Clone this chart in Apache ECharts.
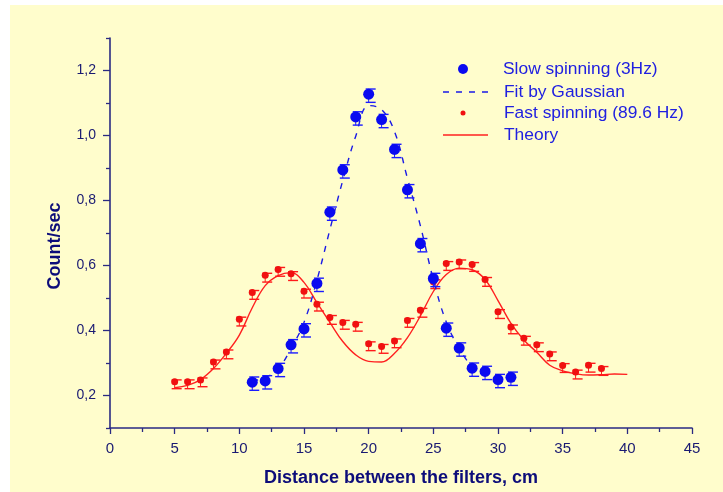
<!DOCTYPE html>
<html>
<head>
<meta charset="utf-8">
<script src="https://cdn.jsdelivr.net/npm/echarts@6/dist/echarts.min.js"></script>
<style>
  html, body { margin: 0; padding: 0; background: #ffffff; }
  #main { position: absolute; left: 10px; top: 5px; width: 713px; height: 487px; }
</style>
</head>
<body>
<div id="main"></div>
<script>
// slow spinning (3Hz) - blue points
const slowX = [11, 12, 13, 14, 15, 16, 17, 18, 19, 20, 21, 22, 23, 24, 25, 26, 27, 28, 29, 30, 31];
const slowY = [0.241, 0.245, 0.283, 0.356, 0.405, 0.545, 0.764, 0.894, 1.057, 1.127, 1.049, 0.957, 0.833, 0.667, 0.560, 0.407, 0.346, 0.284, 0.274, 0.249, 0.256];
const slowErr = [0.016, 0.025]; // up, down

// fit by gaussian - blue dashed
const fitX = [11, 12, 13, 14, 15, 16, 17, 18, 19, 20, 21, 22, 23, 24, 25, 26, 27, 28, 29, 30, 31];
const fitY = [0.245, 0.255, 0.282, 0.345, 0.425, 0.555, 0.71, 0.862, 0.998, 1.092, 1.08, 1.012, 0.868, 0.722, 0.557, 0.426, 0.345, 0.29, 0.265, 0.252, 0.247];

// fast spinning (89.6 Hz) - red points
const fastX = [5, 6, 7, 8, 9, 10, 11, 12, 13, 14, 15, 16, 17, 18, 19, 20, 21, 22, 23, 24, 25, 26, 27, 28, 29, 30, 31, 32, 33, 34, 35, 36, 37, 38];
const fastY = [0.242, 0.242, 0.248, 0.303, 0.334, 0.435, 0.517, 0.570, 0.588, 0.575, 0.521, 0.481, 0.440, 0.425, 0.419, 0.359, 0.351, 0.368, 0.431, 0.462, 0.550, 0.606, 0.611, 0.603, 0.557, 0.458, 0.411, 0.376, 0.356, 0.328, 0.292, 0.272, 0.293, 0.283];
const fastErr = [0.006, 0.021];

// theory - red line
const theoryX = [5, 6, 7, 8, 9, 10, 11, 12, 13, 14, 15, 16, 17, 18, 19, 20, 21, 22, 23, 24, 25, 26, 27, 28, 29, 30, 31, 32, 33, 34, 35, 36, 37, 38, 39, 40];
const theoryY = [0.224, 0.231, 0.249, 0.283, 0.330, 0.386, 0.470, 0.538, 0.569, 0.578, 0.548, 0.486, 0.425, 0.366, 0.325, 0.305, 0.303, 0.330, 0.378, 0.445, 0.520, 0.572, 0.592, 0.587, 0.557, 0.492, 0.422, 0.371, 0.333, 0.293, 0.276, 0.267, 0.263, 0.264, 0.266, 0.265];

// axis ticks
const yMajor = [0.2, 0.4, 0.6, 0.8, 1.0, 1.2];
const yMinor = [0.1, 0.3, 0.5, 0.7, 0.9, 1.1, 1.3];

const axisColor = "#2a2a82";
const labelColor = "#1a1a72";
const font = "Arial, 'Liberation Sans', sans-serif";

const zip = (xs, ys) => xs.map((x, i) => [x, ys[i]]);
const errRows = (xs, ys, e) => xs.map((x, i) => [x, ys[i] - e[1], ys[i] + e[0]]);

// error bars with caps
function errorBar(color) {
    return function (params, api) {
        const x = api.value(0);
        const lo = api.coord([x, api.value(1)]);
        const hi = api.coord([x, api.value(2)]);
        const hw = 5, dx = 2;
        const st = { stroke: color, lineWidth: 1.4 };
        return {
            type: "group",
            children: [
                { type: "line", shape: { x1: lo[0], y1: lo[1], x2: hi[0], y2: hi[1] }, style: { stroke: color, lineWidth: 1 } },
                { type: "line", shape: { x1: hi[0] - hw + dx, y1: hi[1], x2: hi[0] + hw + dx, y2: hi[1] }, style: st },
                { type: "line", shape: { x1: lo[0] - hw + dx, y1: lo[1], x2: lo[0] + hw + dx, y2: lo[1] }, style: st },
            ],
        };
    };
}

const legendText = { fill: "#2020e0", font: "17.4px " + font, verticalAlign: "middle" };

let option = {
    backgroundColor: "#fffdcc",
    animation: false,
    grid: { left: 100, right: 31, top: 33, bottom: 61 },
    xAxis: {
        type: "value",
        min: 0,
        max: 45,
        interval: 5,
        name: "Distance between the filters, cm",
        nameLocation: "middle",
        nameGap: 41,
        nameTextStyle: { color: "#0d0d7a", fontSize: 18, fontWeight: "bold", fontFamily: font },
        axisLine: { lineStyle: { color: axisColor, width: 1.6 } },
        axisTick: { length: 6, lineStyle: { color: axisColor, width: 1.3 } },
        minorTick: { show: true, splitNumber: 2, length: 4, lineStyle: { color: axisColor, width: 1.3 } },
        axisLabel: { color: labelColor, fontSize: 15, fontFamily: font, margin: 13 },
        splitLine: { show: false },
    },
    yAxis: [
        {
            type: "value",
            min: 0.1,
            max: 1.3,
            name: "Count/sec",
            nameLocation: "middle",
            nameGap: 46,
            nameRotate: 90,
            nameTextStyle: { color: "#0d0d7a", fontSize: 18, fontWeight: "bold", fontFamily: font, padding: [0, 26, 0, 0] },
            axisLine: { show: true, lineStyle: { color: axisColor, width: 1.6 } },
            axisTick: { show: true, length: 7, customValues: yMajor, lineStyle: { color: axisColor, width: 1.3 } },
            axisLabel: {
                color: labelColor,
                fontSize: 14,
                fontFamily: font,
                margin: 14,
                customValues: yMajor,
                formatter: (v) => v.toFixed(1).replace(".", ","),
            },
            splitLine: { show: false },
        },
        {
            type: "value",
            min: 0.1,
            max: 1.3,
            position: "left",
            offset: 0,
            axisLine: { show: false },
            axisTick: { show: true, length: 4, customValues: yMinor, lineStyle: { color: axisColor, width: 1.3 } },
            axisLabel: { show: false },
            splitLine: { show: false },
        },
    ],
    series: [
        {
            name: "Theory",
            type: "line",
            data: zip(theoryX, theoryY),
            smooth: 0.4,
            symbol: "none",
            lineStyle: { color: "#ff2020", width: 1.4 },
            z: 2,
        },
        {
            name: "fastErr",
            type: "custom",
            renderItem: errorBar("#ff1a1a"),
            data: errRows(fastX, fastY, fastErr),
            z: 3,
        },
        {
            name: "Fast spinning (89.6 Hz)",
            type: "scatter",
            data: zip(fastX, fastY),
            symbolSize: 7,
            itemStyle: { color: "#f01010", opacity: 1 },
            z: 4,
        },
        {
            name: "Fit by Gaussian",
            type: "line",
            data: zip(fitX, fitY),
            smooth: 0.4,
            symbol: "none",
            lineStyle: { color: "#1a1ae6", width: 1.4, type: [6, 7] },
            z: 5,
        },
        {
            name: "slowErr",
            type: "custom",
            renderItem: errorBar("#1a1aff"),
            data: errRows(slowX, slowY, slowErr),
            z: 6,
        },
        {
            name: "Slow spinning (3Hz)",
            type: "scatter",
            data: zip(slowX, slowY),
            symbolSize: 11,
            itemStyle: { color: "#0a0af0", opacity: 1 },
            z: 7,
        },
    ],
    // legend drawn by hand
    graphic: [
        { type: "circle", shape: { cx: 453, cy: 64, r: 5 }, style: { fill: "#0a0af0" } },
        { type: "text", x: 493, y: 64, style: Object.assign({ text: "Slow spinning (3Hz)" }, legendText) },
        { type: "line", shape: { x1: 433, y1: 87, x2: 478, y2: 87 }, style: { stroke: "#1a1ae6", lineWidth: 1.4, lineDash: [6, 7] } },
        { type: "text", x: 494, y: 87, style: Object.assign({ text: "Fit by Gaussian" }, legendText) },
        { type: "circle", shape: { cx: 453, cy: 108, r: 2.5 }, style: { fill: "#f01010" } },
        { type: "text", x: 494, y: 108, style: Object.assign({ text: "Fast spinning (89.6 Hz)" }, legendText) },
        { type: "line", shape: { x1: 433, y1: 130, x2: 478, y2: 130 }, style: { stroke: "#ff2020", lineWidth: 1.4 } },
        { type: "text", x: 494, y: 130, style: Object.assign({ text: "Theory" }, legendText) },
    ],
};

const chartObj = echarts.init(document.getElementById("main"));
chartObj.setOption(option);
</script>
</body>
</html>
